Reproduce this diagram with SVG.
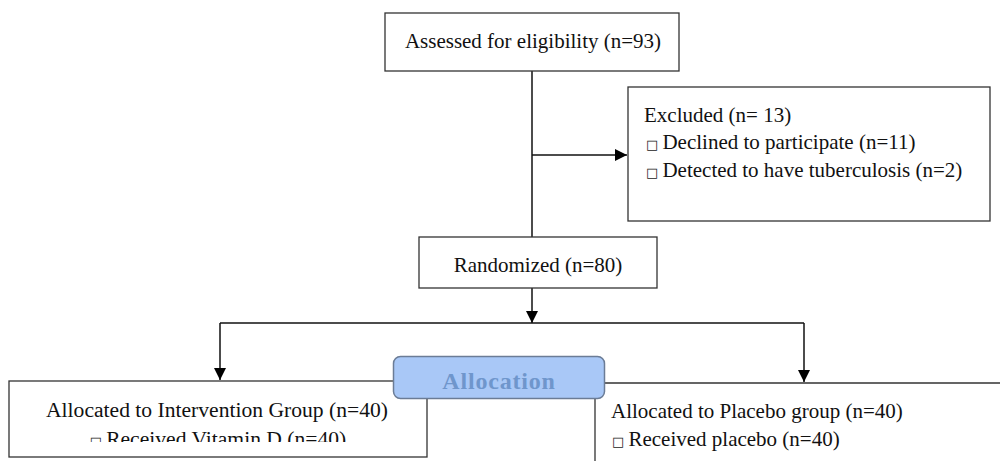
<svg xmlns="http://www.w3.org/2000/svg" width="1000" height="461" viewBox="0 0 1000 461">
<style>
.box{fill:#fff;stroke:#333;stroke-width:1.3}
.t{font-family:"Liberation Serif","Times New Roman",serif;font-size:21px;fill:#111}
.c{text-anchor:middle}
.sq{font-family:"DejaVu Sans",sans-serif;font-size:13px;fill:#222}
.ln{fill:none;stroke:#111;stroke-width:1.5}
</style>
<defs>
<marker id="ah" viewBox="0 0 12 12" refX="12" refY="6" markerWidth="12" markerHeight="12" markerUnits="userSpaceOnUse" orient="auto">
<path d="M0,0 L12,6 L0,12 z" fill="#000"/>
</marker>
<clipPath id="clipL"><rect x="0" y="380" width="430" height="62"/></clipPath>
</defs>
<rect width="1000" height="461" fill="#fff"/>
<g id="connectors">
<path class="ln" d="M532,71 V237"/>
<path class="ln" d="M532,155 H627" marker-end="url(#ah)"/>
<path class="ln" d="M532,288 V323" marker-end="url(#ah)"/>
<path class="ln" d="M220,323 H804"/>
<path class="ln" d="M220,323 V380" marker-end="url(#ah)"/>
<path class="ln" d="M804,323 V382" marker-end="url(#ah)"/>
</g>
<g id="assessed">
<rect class="box" x="385" y="13" width="294" height="58"/>
<text class="t c" x="533" y="48">Assessed for eligibility (n=93)</text>
</g>
<g id="excluded">
<rect class="box" x="628" y="87" width="362" height="134"/>
<text class="t" x="644" y="122">Excluded (n= 13)</text>
<text class="t" x="646" y="149" xml:space="preserve"><tspan class="sq">□ </tspan>Declined to participate (n=11)</text>
<text class="t" x="646" y="177" xml:space="preserve"><tspan class="sq">□ </tspan>Detected to have tuberculosis (n=2)</text>
</g>
<g id="randomized">
<rect class="box" x="419" y="237" width="238" height="51"/>
<text class="t c" x="538" y="272">Randomized (n=80)</text>
</g>
<g id="intervention">
<rect class="box" x="9" y="381" width="418" height="76"/>
<text class="t c" x="217" y="417" style="font-size:21.6px">Allocated to Intervention Group (n=40)</text>
<text class="t c" x="218" y="446" style="font-size:21.6px" clip-path="url(#clipL)" xml:space="preserve"><tspan class="sq">□ </tspan>Received Vitamin D (n=40)</text>
</g>
<g id="placebo">
<path class="box" d="M1001,383 H595 V462"/>
<text class="t" x="611" y="418">Allocated to Placebo group (n=40)</text>
<text class="t" x="612" y="446" xml:space="preserve"><tspan class="sq">□ </tspan>Received placebo (n=40)</text>
</g>
<g id="allocation">
<rect x="393.5" y="356.5" width="211" height="42" rx="7" fill="#a9c8f7" stroke="#6b7c96" stroke-width="1.5"/>
<text x="499" y="389" text-anchor="middle" font-family="Liberation Serif, Times New Roman, serif" font-weight="bold" font-size="24" letter-spacing="0.8" fill="#6f96cc">Allocation</text>
</g>
</svg>
